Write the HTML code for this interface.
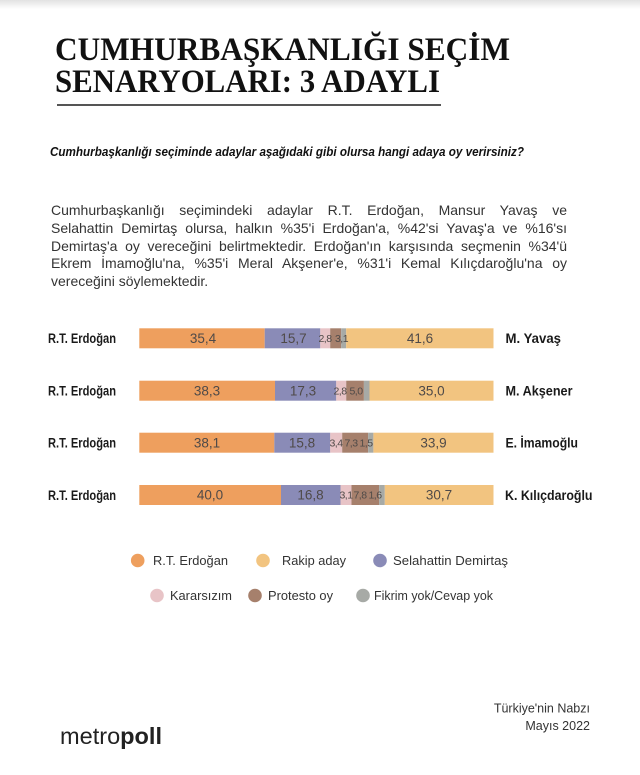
<!DOCTYPE html>
<html>
<head>
<meta charset="utf-8">
<style>
  html, body { margin:0; padding:0; background:#fff; }
  body { width:640px; height:775px; position:relative; overflow:hidden; }
  svg { position:absolute; left:0; top:0; }
  .para {
    position:absolute; left:51px; width:516px;
    font-family:"Liberation Sans", sans-serif; font-size:14px; color:#333;
    line-height:17.8px; height:17.8px;
    text-align:justify; text-align-last:justify;
  }
  .para.last { text-align:left; text-align-last:left; }
</style>
</head>
<body>
<svg width="640" height="775" viewBox="0 0 640 775" xmlns="http://www.w3.org/2000/svg">
  <defs>
    <linearGradient id="topg" x1="0" y1="0" x2="0" y2="1">
      <stop offset="0" stop-color="#e2e2e2"/>
      <stop offset="1" stop-color="#ffffff"/>
    </linearGradient>
  </defs>
  <rect x="0" y="0" width="640" height="9" fill="url(#topg)"/>

  <!-- Title -->
  <g font-family="'Liberation Serif', serif" font-weight="bold" fill="#111" font-size="33">
    <text x="55" y="60" textLength="455" lengthAdjust="spacingAndGlyphs">CUMHURBAŞKANLIĞI SEÇİM</text>
    <text x="55" y="92" textLength="385" lengthAdjust="spacingAndGlyphs">SENARYOLARI: 3 ADAYLI</text>
  </g>
  <rect x="57" y="104" width="384" height="2" fill="#555"/>

  <!-- Question -->
  <text x="50" y="156" font-family="'Liberation Sans', sans-serif" font-size="13" font-weight="bold" font-style="italic" fill="#111" textLength="474" lengthAdjust="spacingAndGlyphs">Cumhurbaşkanlığı seçiminde adaylar aşağıdaki gibi olursa hangi adaya oy verirsiniz?</text>

  <!-- Left / right labels -->
  <g font-family="'Liberation Sans', sans-serif" font-weight="bold" font-size="13.5" fill="#1a1a1a">
    <text x="48" y="343" textLength="68" lengthAdjust="spacingAndGlyphs">R.T. Erdoğan</text>
    <text x="48" y="395.5" textLength="68" lengthAdjust="spacingAndGlyphs">R.T. Erdoğan</text>
    <text x="48" y="447.5" textLength="68" lengthAdjust="spacingAndGlyphs">R.T. Erdoğan</text>
    <text x="48" y="500" textLength="68" lengthAdjust="spacingAndGlyphs">R.T. Erdoğan</text>
    <text x="505.5" y="343" textLength="55.5" lengthAdjust="spacingAndGlyphs">M. Yavaş</text>
    <text x="505.5" y="395.5" textLength="67" lengthAdjust="spacingAndGlyphs">M. Akşener</text>
    <text x="505.5" y="447.5" textLength="72.5" lengthAdjust="spacingAndGlyphs">E. İmamoğlu</text>
    <text x="505" y="500" textLength="87.5" lengthAdjust="spacingAndGlyphs">K. Kılıçdaroğlu</text>
  </g>

  <!-- Bar 1 -->
  <g>
    <rect x="139.3" y="328.3" width="125.4" height="20" fill="#ee9f5e"/>
    <rect x="264.7" y="328.3" width="55.6" height="20" fill="#8a8bb7"/>
    <rect x="320.3" y="328.3" width="9.9" height="20" fill="#e8c4c7"/>
    <rect x="330.2" y="328.3" width="11" height="20" fill="#a6806c"/>
    <rect x="341.2" y="328.3" width="5" height="20" fill="#a7aaa6"/>
    <rect x="346.2" y="328.3" width="147.3" height="20" fill="#f2c480"/>
  </g>
  <!-- Bar 2 -->
  <g>
    <rect x="139.3" y="380.7" width="135.7" height="20" fill="#ee9f5e"/>
    <rect x="275" y="380.7" width="61.3" height="20" fill="#8a8bb7"/>
    <rect x="336.2" y="380.7" width="9.9" height="20" fill="#e8c4c7"/>
    <rect x="346.2" y="380.7" width="17.7" height="20" fill="#a6806c"/>
    <rect x="363.9" y="380.7" width="5.7" height="20" fill="#a7aaa6"/>
    <rect x="369.5" y="380.7" width="124" height="20" fill="#f2c480"/>
  </g>
  <!-- Bar 3 -->
  <g>
    <rect x="139.3" y="432.7" width="135" height="20" fill="#ee9f5e"/>
    <rect x="274.3" y="432.7" width="56" height="20" fill="#8a8bb7"/>
    <rect x="330.2" y="432.7" width="12" height="20" fill="#e8c4c7"/>
    <rect x="342.2" y="432.7" width="25.9" height="20" fill="#a6806c"/>
    <rect x="368.1" y="432.7" width="5.3" height="20" fill="#a7aaa6"/>
    <rect x="373.4" y="432.7" width="120.1" height="20" fill="#f2c480"/>
  </g>
  <!-- Bar 4 -->
  <g>
    <rect x="139.3" y="485" width="141.7" height="20" fill="#ee9f5e"/>
    <rect x="281" y="485" width="59.5" height="20" fill="#8a8bb7"/>
    <rect x="340.5" y="485" width="11" height="20" fill="#e8c4c7"/>
    <rect x="351.5" y="485" width="27.6" height="20" fill="#a6806c"/>
    <rect x="379.1" y="485" width="5.7" height="20" fill="#a7aaa6"/>
    <rect x="384.8" y="485" width="108.7" height="20" fill="#f2c480"/>
  </g>

  <!-- Bar labels big -->
  <g font-family="'Liberation Sans', sans-serif" font-size="13.5" fill="#4f4a48" text-anchor="middle">
    <text x="203" y="343">35,4</text>
    <text x="293.5" y="343">15,7</text>
    <text x="420" y="343">41,6</text>

    <text x="207" y="395.4">38,3</text>
    <text x="303" y="395.4">17,3</text>
    <text x="431.5" y="395.4">35,0</text>

    <text x="207" y="447.4">38,1</text>
    <text x="302" y="447.4">15,8</text>
    <text x="433.5" y="447.4">33,9</text>

    <text x="210" y="499.7">40,0</text>
    <text x="310.5" y="499.7">16,8</text>
    <text x="439" y="499.7">30,7</text>
  </g>
  <!-- Bar labels small -->
  <g font-family="'Liberation Sans', sans-serif" font-size="10.5" fill="#4f4a48" text-anchor="middle" letter-spacing="-0.5">
    <text x="325" y="342">2,8</text>
    <text x="341.5" y="342">3,1</text>

    <text x="340" y="394.4">2,8</text>
    <text x="356" y="394.4">5,0</text>

    <text x="336" y="446.4">3,4</text>
    <text x="351" y="446.4">7,3</text>
    <text x="366" y="446.4">1,5</text>

    <text x="346" y="498.7">3,1</text>
    <text x="360" y="498.7">7,8</text>
    <text x="375" y="498.7">1,6</text>
  </g>

  <!-- Legend -->
  <g>
    <circle cx="137.7" cy="560.5" r="6.8" fill="#ee9f5e"/>
    <circle cx="263" cy="560.5" r="6.8" fill="#f2c480"/>
    <circle cx="380" cy="560.5" r="6.8" fill="#8a8bb7"/>
    <circle cx="157" cy="595.5" r="6.8" fill="#e8c4c7"/>
    <circle cx="255" cy="595.5" r="6.8" fill="#a6806c"/>
    <circle cx="363" cy="595.5" r="6.8" fill="#a7aaa6"/>
  </g>
  <g font-family="'Liberation Sans', sans-serif" font-size="12.5" fill="#333">
    <text x="153" y="565" textLength="75" lengthAdjust="spacingAndGlyphs">R.T. Erdoğan</text>
    <text x="282" y="565" textLength="64" lengthAdjust="spacingAndGlyphs">Rakip aday</text>
    <text x="393" y="565" textLength="115" lengthAdjust="spacingAndGlyphs">Selahattin Demirtaş</text>
    <text x="170" y="600" textLength="62" lengthAdjust="spacingAndGlyphs">Kararsızım</text>
    <text x="268" y="600" textLength="65" lengthAdjust="spacingAndGlyphs">Protesto oy</text>
    <text x="374" y="600" textLength="119" lengthAdjust="spacingAndGlyphs">Fikrim yok/Cevap yok</text>
  </g>

  <!-- Footer -->
  <text x="60" y="744" font-family="'Liberation Sans', sans-serif" font-size="23" fill="#222" textLength="102" lengthAdjust="spacingAndGlyphs">metro<tspan font-weight="bold">poll</tspan></text>
  <g font-family="'Liberation Sans', sans-serif" font-size="12.5" fill="#333" text-anchor="end">
    <text x="590" y="712.5">Türkiye'nin Nabzı</text>
    <text x="590" y="730">Mayıs 2022</text>
  </g>
</svg>

<div class="para" style="top:202px;">Cumhurbaşkanlığı seçimindeki adaylar R.T. Erdoğan, Mansur Yavaş ve</div>
<div class="para" style="top:219.8px;">Selahattin Demirtaş olursa, halkın %35'i Erdoğan'a, %42'si Yavaş'a ve %16'sı</div>
<div class="para" style="top:237.6px;">Demirtaş'a oy vereceğini belirtmektedir. Erdoğan'ın karşısında seçmenin %34'ü</div>
<div class="para" style="top:255.4px;">Ekrem İmamoğlu'na, %35'i Meral Akşener'e, %31'i Kemal Kılıçdaroğlu'na oy</div>
<div class="para last" style="top:273.2px;">vereceğini söylemektedir.</div>
</body>
</html>
